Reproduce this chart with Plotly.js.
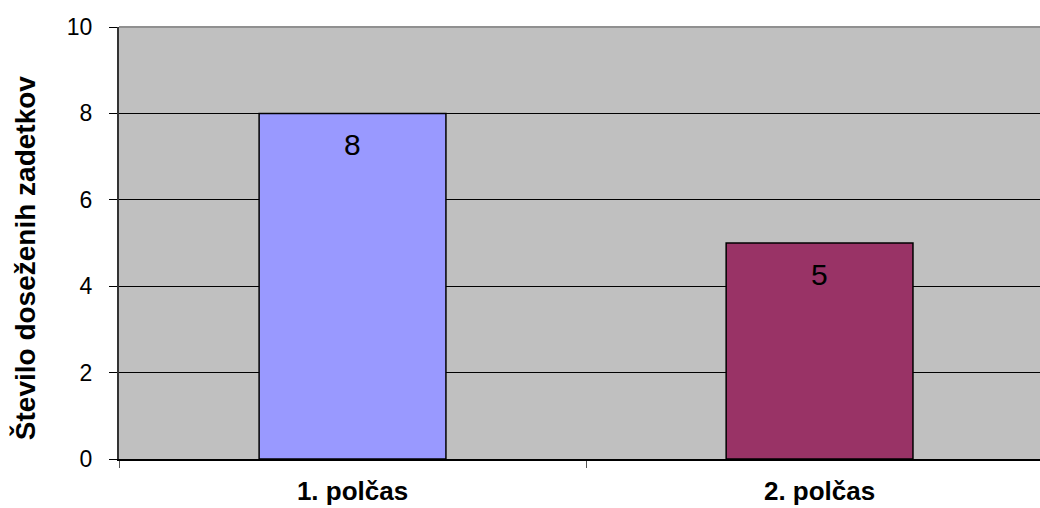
<!DOCTYPE html>
<html>
<head>
<meta charset="utf-8">
<script src="https://cdn.plot.ly/plotly-3.0.1.min.js"></script>
<style>html,body{margin:0;padding:0;background:#fff;}#chart{width:1040px;height:508px;}</style>
</head>
<body>
<div id="chart"></div>
<script>
const categories = ["1. polčas", "2. polčas"];
const values = [8, 5];
const barColors = ["#9999FF", "#993366"];
const yTickVals = [0, 2, 4, 6, 8, 10];
const yTitle = "Število doseženih zadetkov";

const FONT = "Liberation Sans, Arial, sans-serif";

const trace = {
  type: "bar",
  x: categories,
  y: values,
  width: 0.4,
  marker: { color: barColors, line: { color: "#000000", width: 1.5 } },
  hoverinfo: "none"
};

const annotations = categories.map((c, i) => ({
  x: c, y: values[i], xref: "x", yref: "y",
  text: String(values[i]), showarrow: false,
  yanchor: "middle", yshift: -31,
  font: { family: FONT, size: 30, color: "#000" }
}));
annotations.push({
  xref: "paper", yref: "paper", x: -0.102, y: 0.465,
  xanchor: "center", yanchor: "middle",
  text: yTitle, textangle: -90, showarrow: false,
  font: { family: FONT, size: 28, weight: "bold", color: "#000" }
});

const layout = {
  width: 1040, height: 508,
  margin: { l: 119, r: 0, t: 27, b: 49, pad: 0 },
  paper_bgcolor: "#ffffff",
  plot_bgcolor: "#C0C0C0",
  showlegend: false,
  font: { family: FONT, color: "#000" },
  xaxis: {
    type: "category",
    range: [-0.5, 1.472],
    tickson: "boundaries",
    ticks: "outside", ticklen: 7, tickcolor: "#555", tickwidth: 1,
    showline: true, linecolor: "#000", linewidth: 2,
    showgrid: false, zeroline: false,
    tickfont: { size: 26, family: FONT, weight: "bold" },
    ticklabelstandoff: 8
  },
  yaxis: {
    range: [0, 10],
    tickvals: yTickVals,
    ticks: "outside", ticklen: 8, tickcolor: "#000", tickwidth: 1,
    showline: true, linecolor: "#333", linewidth: 2,
    showgrid: true, gridcolor: "#000", gridwidth: 1,
    zeroline: false,
    tickfont: { size: 23 },
    ticklabelstandoff: 12
  },
  shapes: [{
    type: "line", xref: "paper", yref: "paper", x0: 0, x1: 1, y0: 1, y1: 1,
    line: { color: "#909090", width: 2 }
  }],
  annotations: annotations
};

Plotly.newPlot("chart", [trace], layout, { staticPlot: true, displayModeBar: false });
</script>
</body>
</html>
